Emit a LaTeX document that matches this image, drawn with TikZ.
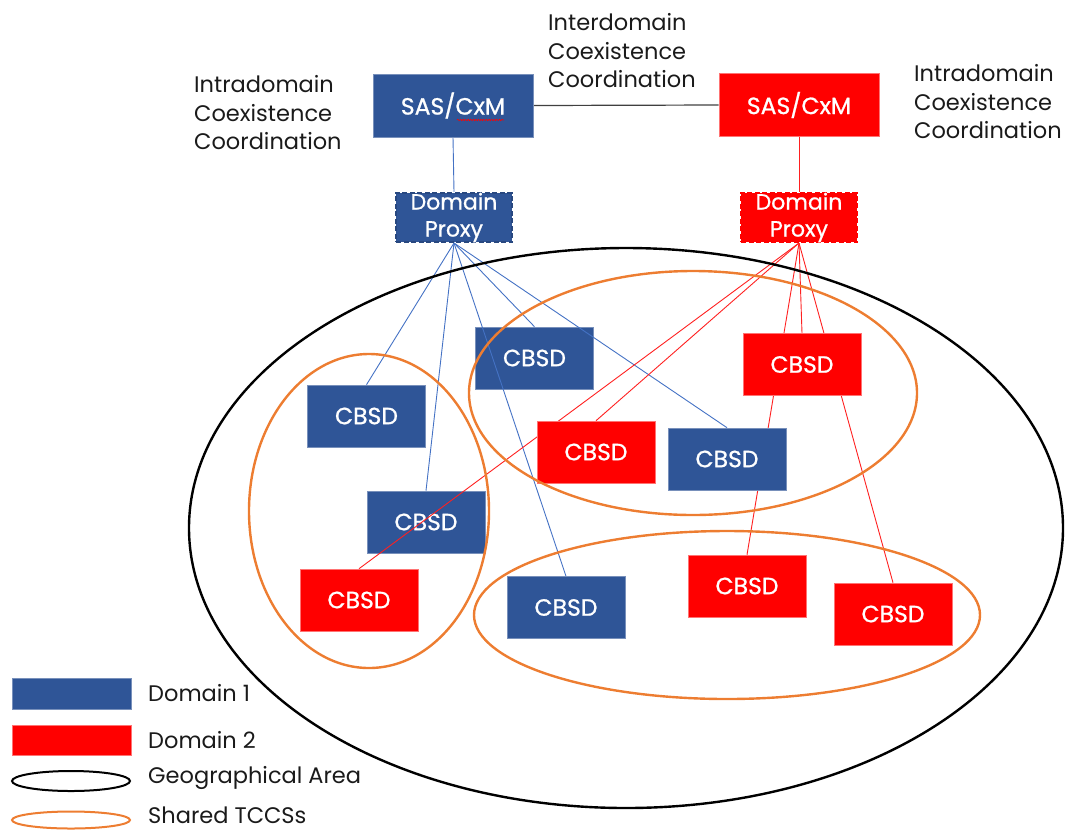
\documentclass[tikz,border=0pt]{standalone}
\usepackage{fontspec}
\setmainfont{Poppins}
\newfontfamily\boxfont{Poppins}[FakeBold=0.9]
\usetikzlibrary{decorations.pathmorphing}
\definecolor{domA}{HTML}{2F5597}
\definecolor{domB}{HTML}{FF0000}
\definecolor{linkA}{HTML}{4472C4}
\definecolor{linkB}{HTML}{FF2020}
\definecolor{tccs}{HTML}{ED7D31}
\definecolor{labeltext}{HTML}{1A1A1A}
\pgfdeclarelayer{under}
\pgfdeclarelayer{edges}
\pgfsetlayers{under,edges,main}
\begin{document}
\begin{tikzpicture}[x=1pt,y=-1pt,
  every node/.style={inner sep=0pt},
  devA/.style={fill=domA, draw=domA!65!white, line width=0.6pt, text=white,
    minimum width=118pt, minimum height=62pt,
    font=\boxfont\fontsize{23.5}{28}\selectfont},
  devB/.style={devA, fill=domB, draw=domB!55!white},
  sasbox/.style={minimum width=160pt, minimum height=63pt},
  proxyA/.style={fill=domA, draw=domA!85!black, line width=1.6pt,
    dash pattern=on 5pt off 2.5pt, preaction={draw=white, line width=1.6pt},
    text=white, align=center, minimum width=116pt, minimum height=49pt,
    font=\boxfont\fontsize{22}{27}\selectfont},
  proxyB/.style={proxyA, fill=domB, draw=domB},
  note/.style={text=labeltext, align=left, anchor=west,
    font=\fontsize{22.5}{28.5}\selectfont},
  key/.style={text=labeltext, anchor=west, font=\fontsize{22.5}{27}\selectfont},
  linkblue/.style={draw=linkA, line width=0.9pt},
  linkred/.style={draw=linkB, line width=0.9pt},
  area/.style={draw=black, line width=2.4pt},
  shared/.style={draw=tccs, line width=2.4pt},
]
\useasboundingbox (0,0) rectangle (1070,831);

% --- spectrum access systems and their proxies
\node[devA, sasbox] (sasA) at (453,105.5) {SAS/CxM};
\node[devB, sasbox] (sasB) at (799,105) {SAS/CxM};
\draw[red, line width=0.6pt, decorate,
  decoration={snake, amplitude=0.7pt, segment length=2.6pt}]
  ([xshift=4pt,yshift=-14.5pt]sasA.center) -- ([xshift=51pt,yshift=-14.5pt]sasA.center);

\node[proxyA] (proxyA) at (454,217.5) {Domain\\Proxy};
\node[proxyB] (proxyB) at (799,217.5) {Domain\\Proxy};

% --- coordination labels
\node[note] (intraA) at (194,113) {Intradomain\\Coexistence\\Coordination};
\node[note] (inter) at (548,51) {Interdomain\\Coexistence\\Coordination};
\node[note] (intraB) at (914,102) {Intradomain\\Coexistence\\Coordination};

% --- CBSDs of domain 1 lying under the links
\begin{pgfonlayer}{under}
\node[devA] (a2) at (534.5,358) {CBSD};
\node[devA] (a4) at (426,522) {CBSD};
\end{pgfonlayer}

% --- remaining CBSDs
\node[devA] (a1) at (366.5,416) {CBSD};
\node[devA] (a3) at (727,459) {CBSD};
\node[devA] (a5) at (566,607.5) {CBSD};
\node[devB] (b1) at (802,364.5) {CBSD};
\node[devB] (b2) at (596,452) {CBSD};
\node[devB] (b3) at (359,600) {CBSD};
\node[devB] (b4) at (747,586) {CBSD};
\node[devB] (b5) at (893,614) {CBSD};

% --- links
\begin{pgfonlayer}{edges}
\draw[draw=black!75, line width=1.2pt] (sasA.east) -- (sasB.west);
\draw[linkblue] (sasA.south) -- (proxyA.north);
\draw[linkred] (sasB.south) -- (proxyB.north);
\foreach \d in {a1,a2,a3,a4,a5}
  \draw[linkblue] (proxyA.south) -- (\d.north);
\foreach \d in {b1,b2,b3,b4,b5}
  \draw[linkred] (proxyB.south) -- (\d.north);
\end{pgfonlayer}

% --- geographical area and shared TCCS groups
\draw[area] (626,528) ellipse [x radius=437pt, y radius=280pt];
\draw[shared] (369,511) ellipse [x radius=120pt, y radius=157pt];
\draw[shared] (693,393) ellipse [x radius=224pt, y radius=122pt];
\draw[shared] (727,615) ellipse [x radius=253pt, y radius=84pt];

% --- legend
\node[devA, minimum width=119pt, minimum height=31pt] (keyA) at (71.5,693.5) {};
\node[devB, minimum width=119pt, minimum height=30pt] (keyB) at (71.5,740.5) {};
\draw[area, line width=2pt] (71,781) ellipse [x radius=59pt, y radius=10pt];
\draw[shared, line width=2pt] (71,820) ellipse [x radius=59pt, y radius=8.5pt];
\node[key] (keyAtext) at (148,693) {Domain 1};
\node[key] (keyBtext) at (148,740) {Domain 2};
\node[key] (keyGtext) at (148,778) {Geographical Area};
\node[key] (keyTtext) at (148,815.5) {Shared TCCSs};
\end{tikzpicture}
\end{document}
